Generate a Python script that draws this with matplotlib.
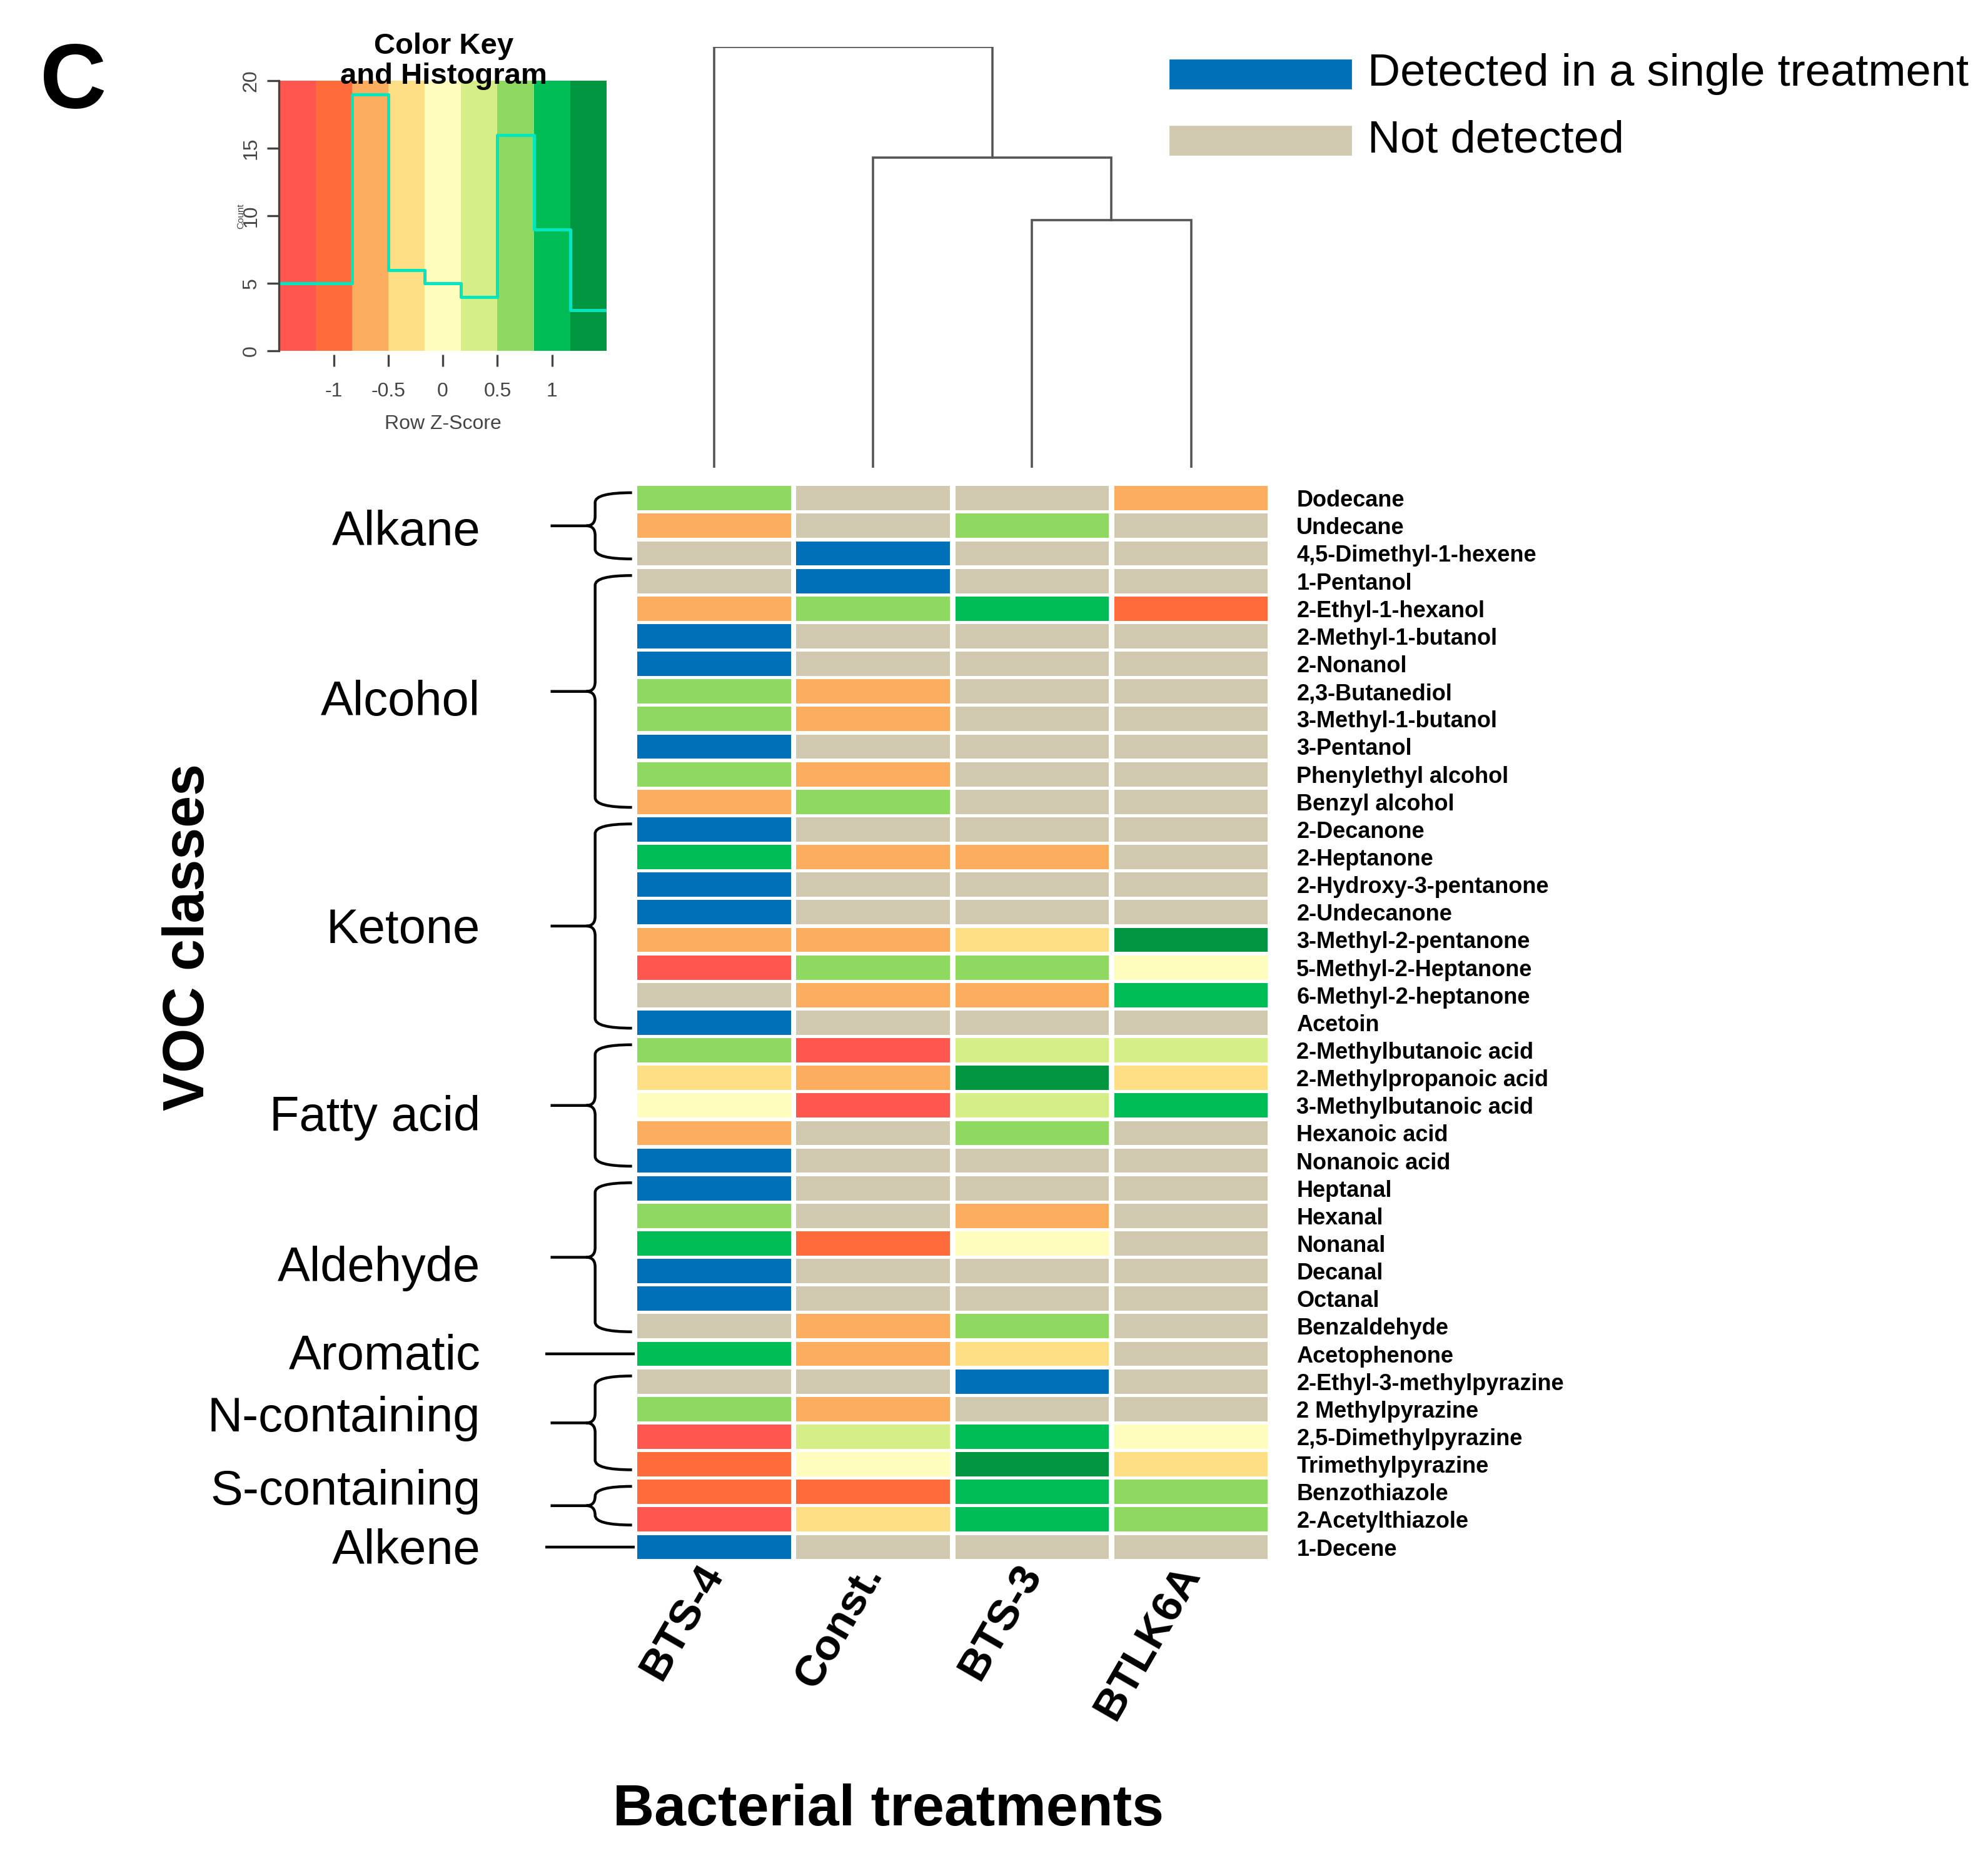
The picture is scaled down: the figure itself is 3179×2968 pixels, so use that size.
import numpy as np
import matplotlib
matplotlib.use("Agg")
import matplotlib.pyplot as plt
import matplotlib.transforms as mtransforms
from matplotlib.colors import ListedColormap, BoundaryNorm
from matplotlib.path import Path
from matplotlib.patches import PathPatch, Rectangle

plt.rcParams['font.family'] = ['Liberation Sans', 'DejaVu Sans']

# ---- data -------------------------------------------------------------
ND = np.nan    # not detected
SD = np.inf    # detected in a single treatment

treatments = ["BTS-4", "Const.", "BTS-3", "BTLK6A"]

compounds = [
    "Dodecane", "Undecane", "4,5-Dimethyl-1-hexene", "1-Pentanol",
    "2-Ethyl-1-hexanol", "2-Methyl-1-butanol", "2-Nonanol", "2,3-Butanediol",
    "3-Methyl-1-butanol", "3-Pentanol", "Phenylethyl alcohol", "Benzyl alcohol",
    "2-Decanone", "2-Heptanone", "2-Hydroxy-3-pentanone", "2-Undecanone",
    "3-Methyl-2-pentanone", "5-Methyl-2-Heptanone", "6-Methyl-2-heptanone",
    "Acetoin", "2-Methylbutanoic acid", "2-Methylpropanoic acid",
    "3-Methylbutanoic acid", "Hexanoic acid", "Nonanoic acid", "Heptanal",
    "Hexanal", "Nonanal", "Decanal", "Octanal", "Benzaldehyde", "Acetophenone",
    "2-Ethyl-3-methylpyrazine", "2 Methylpyrazine", "2,5-Dimethylpyrazine",
    "Trimethylpyrazine", "Benzothiazole", "2-Acetylthiazole", "1-Decene",
]

voc_classes = ["Alkane", "Alcohol", "Ketone", "Fatty acid", "Aldehyde",
               "Aromatic", "N-containing", "S-containing", "Alkene"]
class_sizes = [3, 9, 8, 5, 6, 1, 4, 2, 1]

# row z-scores per treatment
z_bts4 = [0.67, -0.67, ND, ND, -0.67, SD, SD, 0.67, 0.67, SD, 0.67, -0.67,
          SD, 1.0, SD, SD, -0.67, -1.33, ND, SD, 0.67, -0.33, 0.0, -0.67, SD,
          SD, 0.67, 1.0, SD, SD, ND, 1.0, ND, 0.67, -1.33, -1.0, -1.0, -1.33, SD]
z_const = [ND, ND, SD, SD, 0.67, ND, ND, -0.67, -0.67, ND, -0.67, 0.67,
           ND, -0.67, ND, ND, -0.67, 0.67, -0.67, ND, -1.33, -0.67, -1.33, ND, ND,
           ND, ND, -1.0, ND, ND, -0.67, -0.67, ND, -0.67, 0.33, 0.0, -1.0, -0.33, ND]
z_bts3 = [ND, 0.67, ND, ND, 1.0, ND, ND, ND, ND, ND, ND, ND,
          ND, -0.67, ND, ND, -0.33, 0.67, -0.67, ND, 0.33, 1.33, 0.33, 0.67, ND,
          ND, -0.67, 0.0, ND, ND, 0.67, -0.33, SD, ND, 1.0, 1.33, 1.0, 1.0, ND]
z_btlk6a = [-0.67, ND, ND, ND, -1.0, ND, ND, ND, ND, ND, ND, ND,
            ND, ND, ND, ND, 1.33, 0.0, 1.0, ND, 0.33, -0.33, 1.0, ND, ND,
            ND, ND, ND, ND, ND, ND, ND, ND, ND, 0.0, -0.33, 0.67, 0.67, ND]

# dendrogram of treatments: (left, right, height); ids >= 4 are earlier merges
col_merges = [(2, 3, 1.95), (1, 4, 2.44), (0, 5, 3.31)]

key_breaks = np.linspace(-1.5, 1.5, 10)
key_colors = ["#FF5650", "#FF6B3A", "#FDAD5E", "#FEDF86", "#FFFDBE",
              "#D6EE88", "#8ED960", "#00BC55", "#00963F"]
single_color = "#0071B8"
nd_color = "#D0C9B0"

# small vertical nudges of the class names (in rows), as placed in the figure
label_shift = [0.25, 0.4, 0.15, 0.45, 0.4, 0.1, -0.15, -0.5, 0.15]

# ---- setup ------------------------------------------------------------
Z = np.array([z_bts4, z_const, z_bts3, z_btlk6a]).T
n_rows, n_cols = Z.shape
cmap = ListedColormap(key_colors)
norm = BoundaryNorm(key_breaks, cmap.N)


def cell_color(v):
    if np.isnan(v):
        return nd_color
    if np.isinf(v):
        return single_color
    return cmap(norm(v))


fig = plt.figure(figsize=(3179 / 200, 2968 / 200), dpi=200)

# ---- heatmap ----------------------------------------------------------
ax = fig.add_axes([0.3192, 0.1590, 0.3199, 0.5800])
rows = np.arange(n_rows)
for j in range(n_cols):
    ax.barh(rows, 0.965, left=j - 0.4825, height=0.88,
            color=[cell_color(v) for v in Z[:, j]], linewidth=0)
ax.set_xlim(-0.5, n_cols - 0.5)
ax.set_ylim(n_rows - 0.5, -0.5)
for s in ax.spines.values():
    s.set_visible(False)
ax.yaxis.tick_right()
ax.set_yticks(rows)
ax.set_yticklabels(compounds, fontsize=13, fontweight='bold')
ax.tick_params(axis='y', length=0, pad=15)
ax.set_xticks(range(n_cols))
ax.set_xticklabels(treatments, fontsize=25, fontweight='bold', rotation=60,
                   ha='right', va='center', rotation_mode='anchor')
ax.tick_params(axis='x', length=0, pad=4)

# class braces and labels
btrans = mtransforms.blended_transform_factory(ax.transAxes, ax.transData)
ltrans = mtransforms.blended_transform_factory(fig.transFigure, ax.transData)
XE, XV, XJ, XT = -0.004, -0.062, -0.076, -0.132
start = 0
for name, size, dy in zip(voc_classes, class_sizes, label_shift):
    first, last = start, start + size - 1
    ym = (first + last) / 2
    if size == 1:
        ax.plot([-0.14, 0.0], [ym, ym], color='black', lw=1.6,
                transform=btrans, clip_on=False, solid_capstyle='butt')
    else:
        y0, y1 = first - 0.2, last + 0.2
        r = min(0.35, (y1 - y0) / 4)
        verts = [(XE, y0), (XV, y0), (XV, y0 + r), (XV, ym - r),
                 (XV, ym), (XJ, ym), (XV, ym), (XV, ym + r),
                 (XV, y1 - r), (XV, y1), (XE, y1),
                 (XT, ym), (XJ, ym)]
        codes = [Path.MOVETO, Path.CURVE3, Path.CURVE3, Path.LINETO,
                 Path.CURVE3, Path.CURVE3, Path.CURVE3, Path.CURVE3,
                 Path.LINETO, Path.CURVE3, Path.CURVE3,
                 Path.MOVETO, Path.LINETO]
        ax.add_patch(PathPatch(Path(verts, codes), fill=False, lw=1.6,
                               edgecolor='black', transform=btrans,
                               clip_on=False))
    ax.text(0.2417, ym + dy, name, transform=ltrans, fontsize=28,
            ha='right', va='center')
    start += size

# ---- column dendrogram -------------------------------------------------
axd = fig.add_axes([0.3192, 0.7480, 0.3199, 0.2266])
node_x = list(range(n_cols))
node_y = [0.0] * n_cols
for left, right, h in col_merges:
    xl, xr = node_x[left], node_x[right]
    axd.plot([xl, xl, xr, xr], [node_y[left], h, h, node_y[right]],
             color='#555555', lw=1.3, solid_joinstyle='miter')
    node_x.append((xl + xr) / 2)
    node_y.append(h)
axd.set_xlim(-0.5, n_cols - 0.5)
axd.set_ylim(0, max(m[2] for m in col_merges))
axd.axis('off')

# ---- colour key and histogram -----------------------------------------
axk = fig.add_axes([0.1404, 0.8109, 0.1647, 0.1456])
centers = (key_breaks[:-1] + key_breaks[1:]) / 2
axk.pcolormesh(key_breaks, [0, 20], centers[None, :], cmap=cmap, norm=norm)
finite = Z[np.isfinite(Z)]
counts, _ = np.histogram(finite, bins=key_breaks)
axk.step(key_breaks, np.append(counts, counts[-1]), where='post',
         color='#00E6BE', lw=1.8)
axk.set_xlim(key_breaks[0], key_breaks[-1])
axk.set_ylim(0, 20)
axk.set_xticks([-1, -0.5, 0, 0.5, 1])
axk.set_xticklabels(["-1", "-0.5", "0", "0.5", "1"])
axk.set_yticks([0, 5, 10, 15, 20])
for s in ['top', 'right']:
    axk.spines[s].set_visible(False)
axk.spines['bottom'].set_position(('outward', 2))
axk.spines['bottom'].set_visible(False)
axk.spines['left'].set_color('#444444')
axk.spines['left'].set_linewidth(1.2)
axk.tick_params(axis='both', direction='out', length=6.8, width=1.2,
                color='#444444', labelcolor='#444444', labelsize=11.5)
axk.tick_params(axis='x', pad=9)
axk.tick_params(axis='y', pad=4)
for lab in axk.get_yticklabels():
    lab.set_rotation(90)
    lab.set_va('center')
axk.set_xlabel("Row Z-Score", fontsize=11.5, color='#444444', labelpad=8)
axk.set_ylabel("Count", fontsize=5.5, color='#444444', labelpad=-2)
fig.text(0.2231, 0.967, "Color Key\nand Histogram", fontsize=17,
         fontweight='bold', ha='center', va='center', linespacing=1.1)

# ---- legend -----------------------------------------------------------
fig.patches.append(Rectangle((0.5885, 0.9526), 0.091, 0.0151,
                             transform=fig.transFigure, color=single_color))
fig.patches.append(Rectangle((0.5885, 0.9169), 0.091, 0.0151,
                             transform=fig.transFigure, color=nd_color))
fig.text(0.6878, 0.9600, "Detected in a single treatment", fontsize=26,
         ha='left', va='center')
fig.text(0.6878, 0.9243, "Not detected", fontsize=26, ha='left', va='center')

# ---- titles -----------------------------------------------------------
fig.text(0.0368, 0.9545, "C", fontsize=53, fontweight='bold',
         ha='center', va='center')
fig.text(0.0949, 0.4952, "VOC classes", fontsize=33, fontweight='bold',
         rotation=90, ha='center', va='center')
fig.text(0.4468, 0.0247, "Bacterial treatments", fontsize=33,
         fontweight='bold', ha='center', va='center')

fig.savefig("out.png", dpi=200, facecolor='white')
